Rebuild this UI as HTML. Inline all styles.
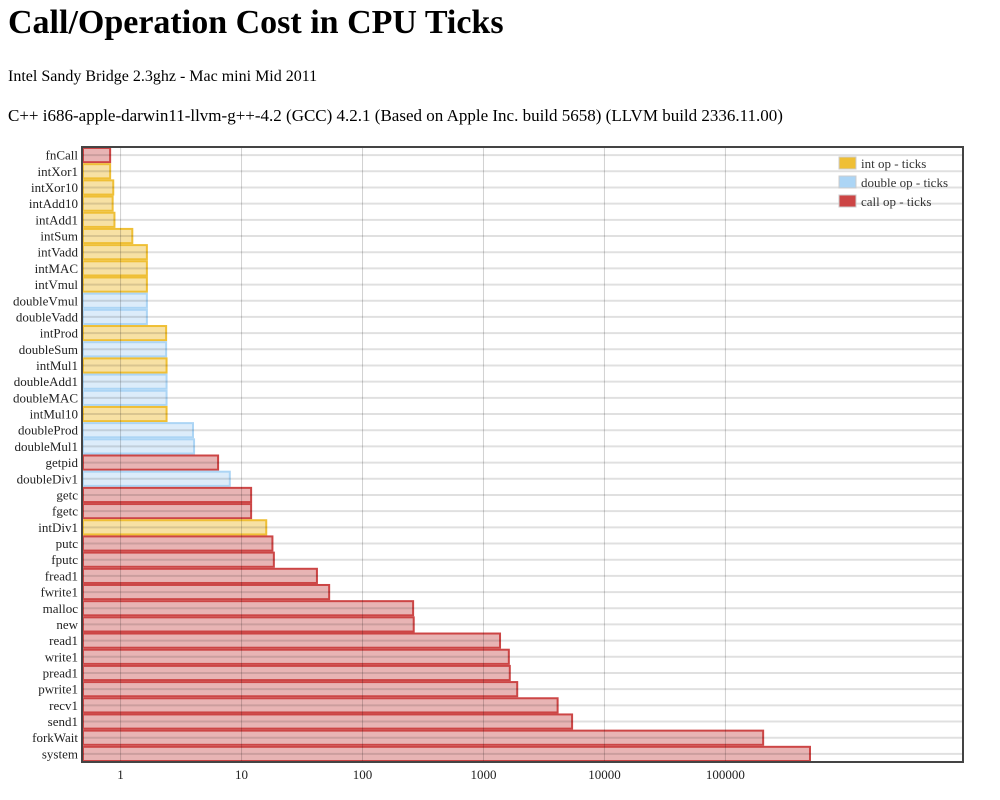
<!DOCTYPE html>
<html><head><meta charset="utf-8"><style>
body{margin:0;background:#fff;font-family:"Liberation Serif",serif;color:#000}
h1{position:absolute;left:8px;top:0;margin:0;font-size:34px;font-weight:bold;line-height:46px}
.p{position:absolute;left:8px;margin:0;font-size:16px}
svg{position:absolute;left:0;top:0}
</style></head><body>
<h1>Call/Operation Cost in CPU Ticks</h1>
<p class="p" style="top:68px">Intel Sandy Bridge 2.3ghz - Mac mini Mid 2011</p>
<p class="p" style="top:106px;font-size:17px">C++ i686-apple-darwin11-llvm-g++-4.2 (GCC) 4.2.1 (Based on Apple Inc. build 5658) (LLVM build 2336.11.00)</p>
<svg id="c" width="1000" height="800"></svg>
<script>
const categories=["fnCall","intXor1","intXor10","intAdd10","intAdd1","intSum","intVadd","intMAC","intVmul","doubleVmul","doubleVadd","intProd","doubleSum","intMul1","doubleAdd1","doubleMAC","intMul10","doubleProd","doubleMul1","getpid","doubleDiv1","getc","fgetc","intDiv1","putc","fputc","fread1","fwrite1","malloc","new","read1","write1","pread1","pwrite1","recv1","send1","forkWait","system"];
const values=[0.82,0.82,0.87,0.86,0.89,1.25,1.65,1.65,1.65,1.65,1.65,2.38,2.38,2.4,2.4,2.4,2.4,3.97,4.05,6.4,8.0,12,12,16,18,18.5,42,53,262,265,1370,1620,1650,1900,4100,5400,205000,500000];
const kinds=["call","int","int","int","int","int","int","int","int","double","double","int","double","int","double","double","int","double","double","call","double","call","call","int","call","call","call","call","call","call","call","call","call","call","call","call","call","call"];
const tickValues=[1,10,100,1000,10000,100000];
const tickLabels=["1","10","100","1000","10000","100000"];
const legendKinds=["int","double","call"];
const legendLabels=["int op - ticks","double op - ticks","call op - ticks"];
const NS="http://www.w3.org/2000/svg",svg=document.getElementById("c");
const L=82,R=963,T=147,B=762,dMin=Math.log10(0.48),dMax=Math.log10(9.2e6);
const x=v=>L+(Math.log10(v)-dMin)/(dMax-dMin)*(R-L);
const rowH=(B-T)/categories.length,y=i=>T+i*rowH;
const fills={int:"#f7e1a4",double:"#dcecfa",call:"#e8b4b4"},strokes={int:"#efbf35",double:"#acd5f5",call:"#cc4545"};
function mk(t,a){const e=document.createElementNS(NS,t);for(const k in a)e.setAttribute(k,a[k]);svg.appendChild(e);return e;}
categories.forEach((c,i)=>{
  const bar=mk("rect",{x:L+1,y:y(i)+1,width:x(values[i])-L-1,height:rowH-2,fill:fills[kinds[i]],stroke:strokes[kinds[i]],"stroke-width":2});
  
  
  const t=mk("text",{x:L-4,y:y(i)+rowH/2+4.5,"text-anchor":"end","font-size":13,"font-family":"Liberation Serif, serif",fill:"#222"});
  t.textContent=c;
  
  
});
for(let i=0;i<categories.length;i++){
  const g=mk("line",{x1:L,x2:R,y1:y(i)+rowH/2,y2:y(i)+rowH/2,stroke:"rgba(0,0,0,0.12)","stroke-width":2});
  
  
}
tickValues.forEach((v,i)=>{
  const g=mk("line",{x1:x(v),x2:x(v),y1:T,y2:B,stroke:"rgba(0,0,0,0.18)","stroke-width":1});
  
  
  const t=mk("text",{x:x(v),y:B+17,"text-anchor":"middle","font-size":13,"font-family":"Liberation Serif, serif",fill:"#222"});
  t.textContent=tickLabels[i];
  
  
});
const fr=mk("rect",{x:L,y:T,width:R-L,height:B-T,fill:"none",stroke:"#444","stroke-width":2});


legendKinds.forEach((k,i)=>{
  const s=mk("rect",{x:839,y:157+i*19,width:17,height:12,fill:strokes[k],stroke:"#ccc","stroke-width":1});
  
  
  const t=mk("text",{x:861,y:168+i*19,"font-size":13,"font-family":"Liberation Serif, serif",fill:"#333"});
  t.textContent=legendLabels[i];
  
  
});
</script>
</body></html>
